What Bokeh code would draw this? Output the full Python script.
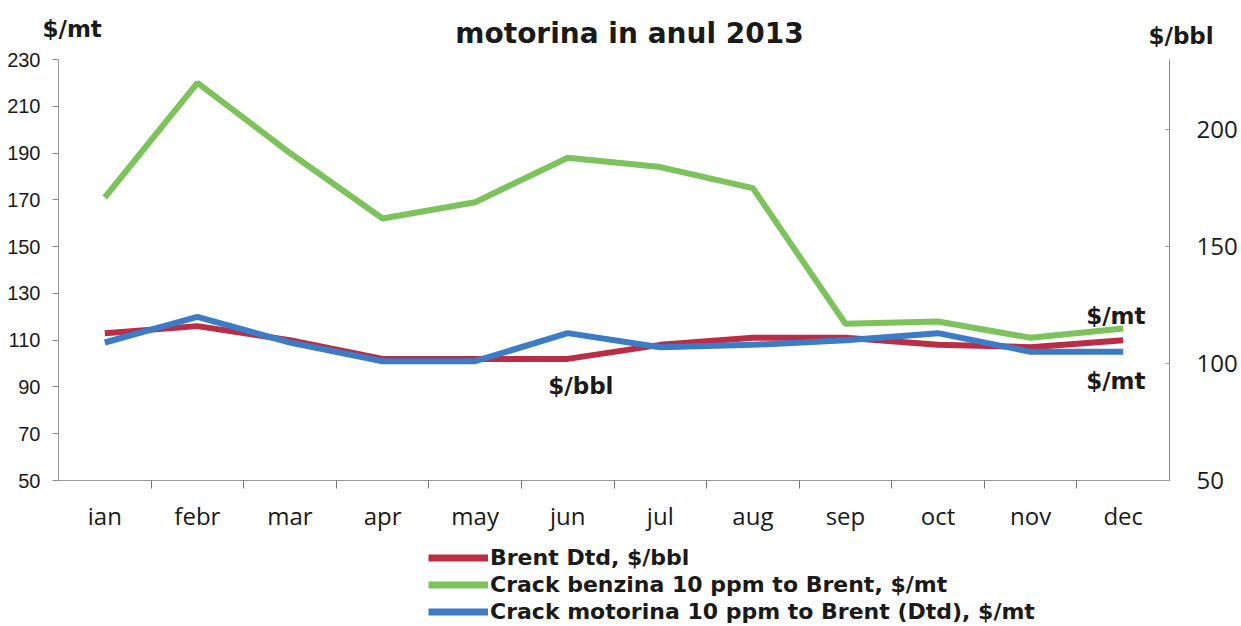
from bokeh.plotting import figure
from bokeh.models import (Range1d, LinearAxis, FixedTicker, Label, Legend, LegendItem)
from bokeh.layouts import column, row
from bokeh.embed import file_html
from bokeh.resources import INLINE
import numpy as np

months = ["ian", "febr", "mar", "apr", "may", "jun", "jul", "aug", "sep", "oct", "nov", "dec"]
brent_bbl = [113, 116, 110, 102, 102, 102, 108, 111, 111, 108, 107, 110]
crack_benzina = [171, 220, 190, 162, 169, 188, 184, 175, 117, 118, 111, 115]
crack_motorina = [109, 120, 109, 101, 101, 113, 107, 108, 110, 113, 105, 105]
left_ticks = [50, 70, 90, 110, 130, 150, 170, 190, 210, 230]
right_ticks = [50, 100, 150, 200]
series_names = ["Brent Dtd, $/bbl",
                "Crack benzina 10 ppm to Brent, $/mt",
                "Crack motorina 10 ppm to Brent (Dtd), $/mt"]

RED = "#BA2D45"
GREEN = "#7CC35C"
BLUE = "#3C7BC5"
BOLD = "DejaVu Sans"
INK = "#1a1a1a"
W = 1240


def blank(h):
    f = figure(width=W, height=h, output_backend="svg", toolbar_location=None,
               x_range=Range1d(0, W), y_range=Range1d(0, h),
               min_border=0, x_axis_location=None, y_axis_location=None)
    f.grid.visible = False
    f.outline_line_color = None
    return f


def bold_label(f, xv, yv, text, size="23px", align="left"):
    f.add_layout(Label(x=xv, y=yv, text=text, text_font=BOLD, text_font_style="bold",
                       text_font_size=size, text_color=INK, text_align=align,
                       text_baseline="alphabetic"))


# ---- header (title and axis units)
HEAD_H = 49
head = blank(HEAD_H)
bold_label(head, 629, HEAD_H - 33, "motorina in anul 2013", size="28px", align="center")
bold_label(head, 42, HEAD_H - 28, "$/mt")
bold_label(head, 1148, HEAD_H - 35, "$/bbl")

# ---- main chart
x = np.arange(len(months)) + 0.5

p = figure(width=W, height=10 + 421 + 56, output_backend="svg", toolbar_location=None,
           x_range=Range1d(0, 12), y_range=Range1d(50, 230),
           min_border_left=58, min_border_right=W - 1170, min_border_top=10, min_border_bottom=56,
           y_axis_location=None, x_axis_location=None)
p.extra_y_ranges = {"right": Range1d(50, 230)}
p.grid.visible = False
p.outline_line_color = None

xa = LinearAxis(ticker=FixedTicker(ticks=list(x), minor_ticks=list(range(1, 12))),
                major_label_overrides={float(v): m for v, m in zip(x, months)})
xa.major_tick_out = 0
xa.major_tick_in = 0
xa.minor_tick_out = 8
xa.minor_tick_in = 0
xa.minor_tick_line_color = "#777777"
xa.axis_line_color = "#999999"
xa.major_label_standoff = 10
xa.major_label_text_font = "Open Sans"
xa.major_label_text_font_size = "24px"
xa.major_label_text_color = INK
p.add_layout(xa, "below")

ya = LinearAxis(ticker=FixedTicker(ticks=left_ticks))
ya.major_tick_out = 6
ya.major_tick_in = 0
ya.major_tick_line_color = "#888888"
ya.axis_line_color = "#999999"
ya.major_label_standoff = 12
ya.major_label_text_font = "Liberation Sans Narrow, Liberation Sans"
ya.major_label_text_font_size = "20px"
ya.major_label_text_color = INK
p.add_layout(ya, "left")

ra = LinearAxis(y_range_name="right", ticker=FixedTicker(ticks=right_ticks))
ra.major_tick_out = 0
ra.major_tick_in = 4
ra.major_tick_line_color = "#999999"
ra.axis_line_color = "#888888"
ra.major_label_standoff = 27
ra.major_label_text_font = "Open Sans"
ra.major_label_text_font_size = "24px"
ra.major_label_text_color = INK
p.add_layout(ra, "right")

p.line(x, brent_bbl, line_color=RED, line_width=6, y_range_name="right")
p.line(x, crack_benzina, line_color=GREEN, line_width=6)
p.line(x, crack_motorina, line_color=BLUE, line_width=6)

bold_label(p, 5.29, 90.2, "$/bbl")
bold_label(p, 11.10, 120.5, "$/mt")
bold_label(p, 11.10, 92.7, "$/mt")

# ---- legend strip (its line renderers lie outside its own view; only the swatches show)
leg = blank(89)
items = []
for name, col, vals in zip(series_names, [RED, GREEN, BLUE],
                           [brent_bbl, crack_benzina, crack_motorina]):
    r = leg.line(x, vals, line_color=col, line_width=7)
    items.append(LegendItem(label=name, renderers=[r]))
legend = Legend(items=items, location=(428, 0), orientation="vertical")
legend.padding = 0
legend.margin = 0
legend.spacing = 0
legend.glyph_width = 60
legend.glyph_height = 27
legend.label_height = 27
legend.label_standoff = 2
legend.border_line_color = None
legend.background_fill_alpha = 0
legend.label_text_font = BOLD
legend.label_text_font_style = "bold"
legend.label_text_font_size = "22px"
legend.label_text_color = INK
leg.add_layout(legend, "center")

layout = column(row(head), p, row(leg), spacing=0)
open("out.html", "w").write(file_html(layout, INLINE))
